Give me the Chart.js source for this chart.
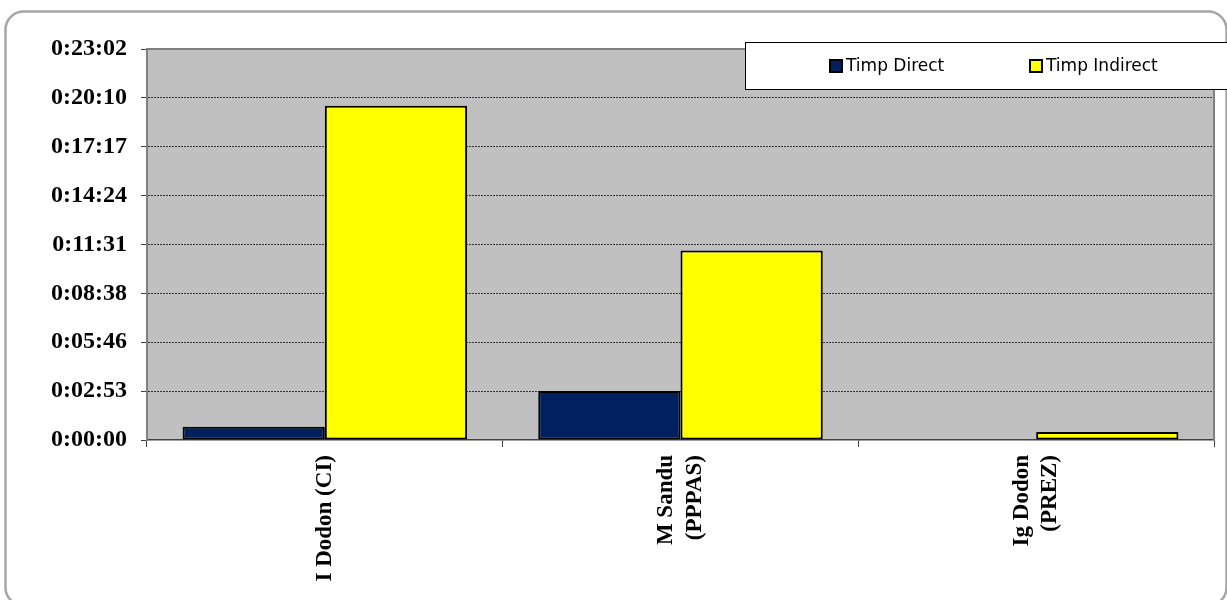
<!DOCTYPE html>
<html>
<head>
<meta charset="utf-8">
<script src="https://cdn.jsdelivr.net/npm/chart.js@4/dist/chart.umd.min.js"></script>
<style>
  html, body { margin: 0; padding: 0; background: #fff; }
  #wrap { width: 1227px; height: 600px; }
</style>
</head>
<body>
<div id="wrap"><canvas id="c" width="1227" height="600"></canvas></div>
<script>
// ---- data (values in seconds) ----
const categories = ['I Dodon (CI)', ['M Sandu', '(PPPAS)'], ['Ig Dodon', '(PREZ)']];
const seriesNames = ['Timp Direct', 'Timp Indirect'];
const timpDirect = [47, 173, 0];
const timpIndirect = [1182, 670, 28];
const yTickSeconds = [0, 172.8, 345.6, 518.4, 691.2, 864, 1036.8, 1209.6, 1382.4];

function fmtTime(v) {
  const s = Math.round(v);
  const h = Math.floor(s / 3600);
  const m = Math.floor((s % 3600) / 60);
  const sec = s % 60;
  return h + ':' + String(m).padStart(2, '0') + ':' + String(sec).padStart(2, '0');
}

const serif = '"Liberation Serif", "Times New Roman", serif';
const xFontSize = 23, xLineHeight = 1.25;
const yMax = yTickSeconds[yTickSeconds.length - 1];

const framePlugin = {
  id: 'frame',
  beforeDraw(chart) {
    const ctx = chart.ctx;
    const a = chart.chartArea;
    // center multi-line rotated category labels on their tick
    const xs = chart.scales.x;
    xs.getLabelItems().forEach(it => {
      if (Array.isArray(it.label) && it.label.length > 1 && !it._centered) {
        it.options.translation[0] -= (it.label.length - 1) * xFontSize * xLineHeight / 2;
        it._centered = true;
      }
    });
    ctx.save();
    ctx.fillStyle = '#fff';
    ctx.fillRect(0, 0, chart.width, chart.height);
    // outer rounded border
    ctx.strokeStyle = '#a6a6a6';
    ctx.lineWidth = 2.5;
    ctx.beginPath();
    ctx.roundRect(5.5, 11.5, 1221, 594, 18);
    ctx.stroke();
    // plot background
    ctx.fillStyle = '#c0c0c0';
    ctx.fillRect(a.left, a.top, a.right - a.left, a.bottom - a.top);
    ctx.restore();
  },
  afterDatasetsDraw(chart) {
    const ctx = chart.ctx;
    const a = chart.chartArea;
    ctx.save();
    ctx.strokeStyle = '#808080';
    ctx.lineWidth = 2;
    ctx.beginPath();
    ctx.moveTo(a.left, a.top);
    ctx.lineTo(a.right, a.top);
    ctx.lineTo(a.right, a.bottom);
    ctx.stroke();
    ctx.restore();
  },
  afterDraw(chart) {
    const ctx = chart.ctx;
    ctx.save();
    // legend box
    ctx.fillStyle = '#fff';
    ctx.fillRect(745, 42, 500, 47);
    ctx.strokeStyle = '#000';
    ctx.lineWidth = 1;
    ctx.strokeRect(745.5, 42.5, 500, 47);
    const xs = [829, 1029];
    ctx.font = '17px "DejaVu Sans", sans-serif';
    ctx.textBaseline = 'middle';
    chart.data.datasets.forEach((ds, i) => {
      ctx.fillStyle = ds.backgroundColor;
      ctx.fillRect(xs[i] + 1, 60, 12, 12);
      ctx.strokeStyle = '#000';
      ctx.lineWidth = 2;
      ctx.strokeRect(xs[i] + 1, 60, 12, 12);
      ctx.fillStyle = '#000';
      ctx.fillText(ds.label, xs[i] + 17, 66.5);
    });
    ctx.restore();
  }
};

new Chart(document.getElementById('c'), {
  type: 'bar',
  data: {
    labels: categories,
    datasets: [
      { label: seriesNames[0], data: timpDirect, backgroundColor: '#00205f', borderColor: '#000', borderWidth: 2, borderSkipped: false },
      { label: seriesNames[1], data: timpIndirect, backgroundColor: '#ffff00', borderColor: '#000', borderWidth: 2, borderSkipped: false }
    ]
  },
  options: {
    responsive: false,
    animation: false,
    layout: { padding: { left: 0, right: 13, top: 49, bottom: 0 } },
    datasets: { bar: { categoryPercentage: 0.8, barPercentage: 1.0 } },
    plugins: { legend: { display: false }, tooltip: { enabled: false } },
    scales: {
      x: {
        offset: true,
        grid: { offset: true, drawOnChartArea: false, tickLength: 7, tickColor: '#404040', tickWidth: 1 },
        border: { color: '#404040', width: 1.5 },
        ticks: {
          minRotation: 90, maxRotation: 90, padding: 8, color: '#000',
          font: { family: serif, size: xFontSize, weight: 'bold', lineHeight: xLineHeight }
        },
        afterFit(scale) { scale.height = 160; }
      },
      y: {
        min: 0, max: yMax,
        afterBuildTicks(scale) { scale.ticks = yTickSeconds.map(v => ({ value: v })); },
        grid: {
          color: ctx => (ctx.tick && (ctx.tick.value === 0 || ctx.tick.value === yMax)) ? 'rgba(0,0,0,0)' : '#333333',
          lineWidth: 1,
          borderDash: [2, 1],
          tickLength: 6, tickColor: '#404040', tickWidth: 1, tickBorderDash: []
        },
        border: { color: '#808080', width: 2, dash: [2, 1] },
        ticks: {
          padding: 14, color: '#000',
          font: { family: serif, size: 24, weight: 'bold' },
          callback: v => fmtTime(v)
        },
        afterFit(scale) { scale.width = 147; }
      }
    }
  },
  plugins: [framePlugin]
});
</script>
</body>
</html>
